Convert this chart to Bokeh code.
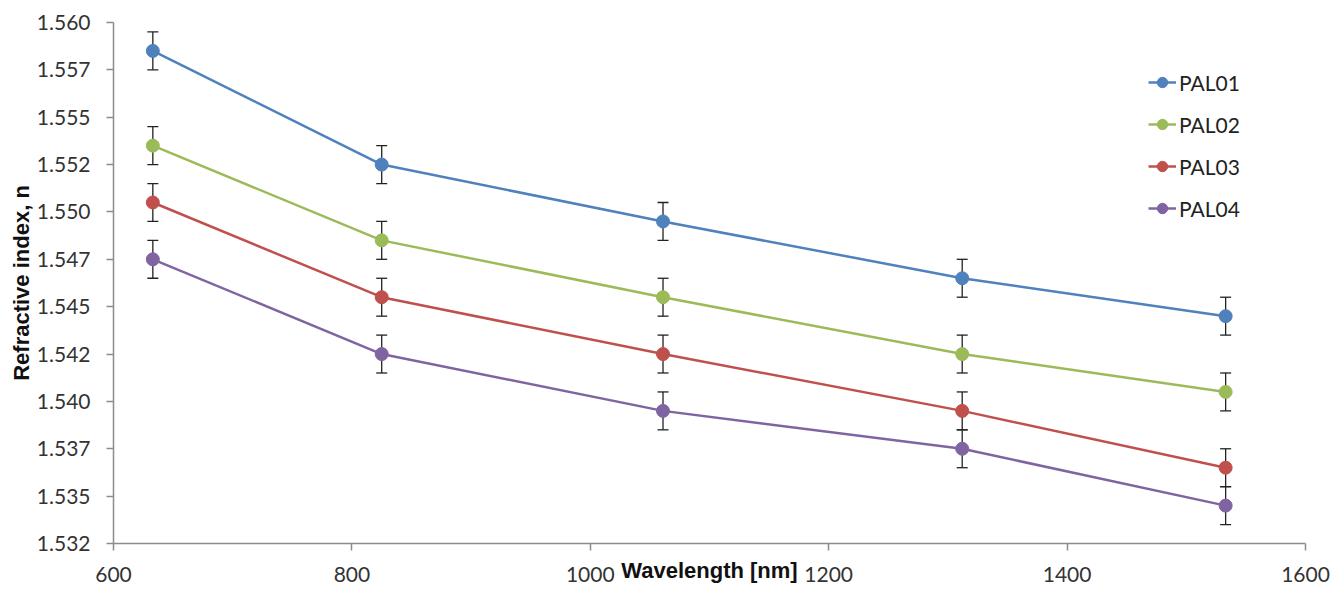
from bokeh.plotting import figure
from bokeh.models import ColumnDataSource, Whisker, TeeHead, FixedTicker, Legend, LegendItem
from bokeh.embed import file_html
from bokeh.resources import INLINE

# ---- data ----
wavelength = [633, 825, 1061, 1312, 1533]
series_names = ["PAL01", "PAL02", "PAL03", "PAL04"]
pal01 = [1.5585, 1.5525, 1.5495, 1.5465, 1.5445]
pal02 = [1.5535, 1.5485, 1.5455, 1.5425, 1.5405]
pal03 = [1.5505, 1.5455, 1.5425, 1.5395, 1.5365]
pal04 = [1.5475, 1.5425, 1.5395, 1.5375, 1.5345]
error = [0.001, 0.001, 0.001, 0.001, 0.001]
x_ticks = [600, 800, 1000, 1200, 1400, 1600]
y_ticks = [1.5325, 1.535, 1.5375, 1.540, 1.5425, 1.545, 1.5475, 1.550, 1.5525, 1.555, 1.5575, 1.560]
y_tick_labels = ["1.532", "1.535", "1.537", "1.540", "1.542", "1.545", "1.547", "1.550", "1.552", "1.555", "1.557", "1.560"]

colors = ["#4F81BD", "#9BBB59", "#C0504D", "#8064A2"]
series = [pal01, pal02, pal03, pal04]

p = figure(width=1332, height=595, output_backend="svg", toolbar_location=None,
           x_range=(600, 1600), y_range=(1.5325, 1.560),
           min_border_left=113, min_border_right=27, min_border_top=22, min_border_bottom=52)
p.outline_line_color = None
p.xgrid.visible = False
p.ygrid.visible = False
p.background_fill_color = "white"

TICK_FONT = "Lato"
for ax in (p.xaxis[0], p.yaxis[0]):
    ax.axis_line_color = "#8c8c8c"
    ax.axis_line_width = 1.5
    ax.major_tick_line_color = "#8c8c8c"
    ax.major_tick_line_width = 1.5
    ax.major_tick_out = 7
    ax.major_tick_in = 0
    ax.minor_tick_line_color = None
    ax.major_label_text_font = TICK_FONT
    ax.major_label_text_font_size = "21px"
    ax.major_label_text_color = "#333333"
    ax.axis_label_text_font = "Liberation Sans"
    ax.axis_label_text_font_style = "bold"
    ax.axis_label_text_font_size = "22px"
    ax.axis_label_text_color = "#111111"

p.xaxis.ticker = FixedTicker(ticks=x_ticks)
p.yaxis.ticker = FixedTicker(ticks=y_ticks)
p.yaxis.major_label_overrides = {t: l for t, l in zip(y_ticks, y_tick_labels)}
p.xaxis.major_label_standoff = 16
p.yaxis.major_label_standoff = 16
p.xaxis.axis_label = "Wavelength [nm]"
p.xaxis.axis_label_standoff = -27
p.yaxis.axis_label = "Refractive index, n"
p.yaxis.axis_label_standoff = 0

items = []
for name, vals, col in zip(series_names, series, colors):
    src = ColumnDataSource(dict(
        x=wavelength, y=vals,
        upper=[v + e for v, e in zip(vals, error)],
        lower=[v - e for v, e in zip(vals, error)]))
    w = Whisker(source=src, base="x", upper="upper", lower="lower",
                line_color="#222222", line_width=1.3, level="underlay",
                upper_head=TeeHead(size=11, line_color="#222222", line_width=1.3),
                lower_head=TeeHead(size=11, line_color="#222222", line_width=1.3))
    p.add_layout(w)
    lr = p.line("x", "y", source=src, line_color=col, line_width=2.5)
    sr = p.scatter("x", "y", source=src, size=13, fill_color=col, line_color=col)
    items.append(LegendItem(label=name, renderers=[lr, sr]))

legend = Legend(items=items, location=(1035, 322), border_line_color=None,
                background_fill_alpha=0, padding=0, margin=0,
                glyph_width=28, glyph_height=26, label_height=26, spacing=16,
                label_standoff=3, label_text_font=TICK_FONT,
                label_text_font_size="21px", label_text_color="#222222")
p.add_layout(legend)

open("out.html", "w").write(file_html(p, INLINE))
